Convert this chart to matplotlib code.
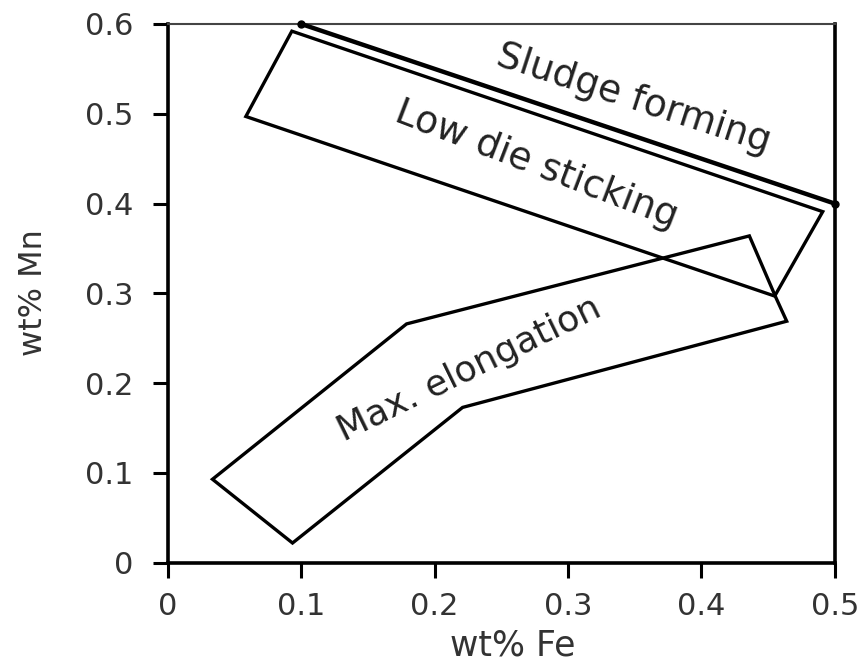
import matplotlib.pyplot as plt
from matplotlib.patches import Polygon

plt.rcParams['font.family'] = ['DejaVu Sans']

# sludge forming boundary line
sludge_fe = [0.1, 0.5]
sludge_mn = [0.6, 0.4]

# low die sticking region
die_fe = [0.093, 0.0585, 0.455, 0.491]
die_mn = [0.592, 0.497, 0.297, 0.391]

# max elongation region
elong_fe = [0.0335, 0.0935, 0.221, 0.464, 0.456, 0.436, 0.179]
elong_mn = [0.093, 0.022, 0.173, 0.269, 0.295, 0.364, 0.266]

x_ticks = [0, 0.1, 0.2, 0.3, 0.4, 0.5]
y_ticks = [0, 0.1, 0.2, 0.3, 0.4, 0.5, 0.6]
x_labels = ['0', '0.1', '0.2', '0.3', '0.4', '0.5']
y_labels = ['0', '0.1', '0.2', '0.3', '0.4', '0.5', '0.6']

txt = '#333333'

fig = plt.figure(figsize=(8.65, 6.66), dpi=100)
ax = fig.add_axes([0.194, 0.155, 0.771, 0.809])

ax.add_patch(Polygon(list(zip(die_fe, die_mn)), closed=True, fill=False,
                     edgecolor='black', lw=2.4, joinstyle='miter'))
ax.add_patch(Polygon(list(zip(elong_fe, elong_mn)), closed=True, fill=False,
                     edgecolor='black', lw=2.4, joinstyle='miter'))
ax.plot(sludge_fe, sludge_mn, color='black', lw=3.2, marker='o', ms=5,
        clip_on=False, zorder=5)

ax.text(0.349, 0.516, 'Sludge forming', rotation=-18, fontsize=27,
        ha='center', va='center', color='#222222', rotation_mode='anchor')
ax.text(0.2766, 0.443, 'Low die sticking', rotation=-21, fontsize=27,
        ha='center', va='center', color='#222222', rotation_mode='anchor')
ax.text(0.2264, 0.215, 'Max. elongation', rotation=26, fontsize=26,
        ha='center', va='center', color='#222222', rotation_mode='anchor')

ax.set_xlim(0, 0.5)
ax.set_ylim(0, 0.6)
ax.set_xticks(x_ticks)
ax.set_yticks(y_ticks)
ax.set_xticklabels(x_labels)
ax.set_yticklabels(y_labels)
ax.tick_params(direction='out', length=11, width=2.2, labelsize=22,
               labelcolor=txt)
ax.tick_params(axis='x', pad=10)
ax.tick_params(axis='y', pad=14)

fig.text(513 / 865, 1 - 656 / 666, 'wt% Fe', fontsize=25, color=txt,
         ha='center', va='baseline')
fig.text(34 / 865, 1 - 293 / 666, 'wt% Mn', fontsize=23, color=txt,
         ha='center', va='center', rotation=90)

for s in ['left', 'bottom', 'right']:
    ax.spines[s].set_linewidth(2.6)
ax.spines['top'].set_linewidth(1.5)
ax.spines['top'].set_color('#444444')

fig.savefig('out.png', dpi=100)
